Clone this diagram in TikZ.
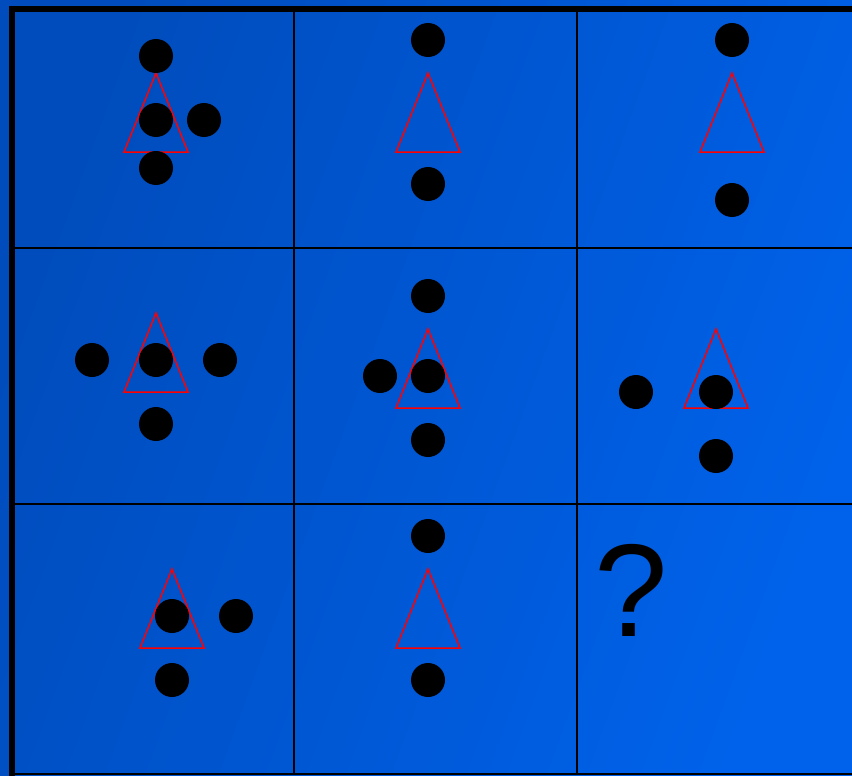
\documentclass[tikz,border=0pt]{standalone}
\usepackage{fontspec}
\setmainfont{Liberation Sans}
\usepackage{tikz}
\usetikzlibrary{positioning}
\definecolor{bgdark}{HTML}{004CBC}
\definecolor{bglight}{HTML}{0062EA}
\definecolor{trired}{HTML}{FF0000}
\tikzset{
  dot/.style={circle, fill=black, inner sep=0pt, minimum size=34pt},
  tri/.style={draw=trired, line width=1.5pt, line join=miter},
  grid/.style={draw=black, line width=2pt},
  mark q/.style={inner sep=0pt, font=\fontsize{132}{132}\selectfont}
}

\begin{document}
\begin{tikzpicture}[x=1pt, y=-1pt]
  \useasboundingbox (0,0) rectangle (852,776);
  % background
  \shade[left color=bgdark, right color=bglight, shading angle=70] (0,0) rectangle (852,776);

  % frame and grid
  \fill[black] (9,6) rectangle (852,12);
  \fill[black] (9,6) rectangle (15,776);
  \foreach \gx in {294,577}
    \draw[grid] (\gx,12) -- (\gx,775);
  \foreach \gy in {248,504,774}
    \draw[grid] (15,\gy) -- (852,\gy);

  % triangles (apex)
  \foreach \tx/\ty in {156/73, 428/73, 732/73, 156/313, 428/329, 716/329, 172/569, 428/569}
    \draw[tri] (\tx,\ty) -- ++(-32,79) -- ++(64,0) -- cycle;

  % row 1
  \node[dot] (a1) at (156,56) {};
  \node[dot] (a2) at (156,120) {};
  \node[dot] (a3) at (204,120) {};
  \node[dot] (a4) at (156,168) {};
  \node[dot] (b1) at (428,40) {};
  \node[dot] (b2) at (428,184) {};
  \node[dot] (c1) at (732,40) {};
  \node[dot] (c2) at (732,200) {};

  % row 2
  \node[dot] (d1) at (92,360) {};
  \node[dot] (d2) at (156,360) {};
  \node[dot] (d3) at (220,360) {};
  \node[dot] (d4) at (156,424) {};
  \node[dot] (e1) at (428,296) {};
  \node[dot] (e2) at (380,376) {};
  \node[dot] (e3) at (428,376) {};
  \node[dot] (e4) at (428,440) {};
  \node[dot] (f1) at (636,392) {};
  \node[dot] (f2) at (716,392) {};
  \node[dot] (f3) at (716,456) {};

  % row 3
  \node[dot] (g1) at (172,616) {};
  \node[dot] (g2) at (236,616) {};
  \node[dot] (g3) at (172,680) {};
  \node[dot] (h1) at (428,536) {};
  \node[dot] (h2) at (428,680) {};
  \node[mark q] (quest) at (631,590) {?};
\end{tikzpicture}
\end{document}
